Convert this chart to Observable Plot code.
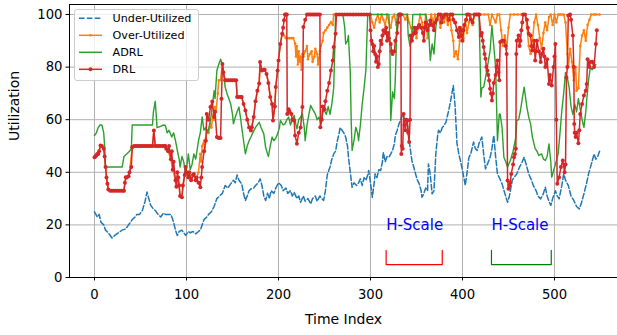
<!DOCTYPE html>
<html>
<head>
<meta charset="utf-8">
<script src="https://cdn.jsdelivr.net/npm/d3@7"></script>
<script src="https://cdn.jsdelivr.net/npm/@observablehq/plot@0.6"></script>
<style>
  html, body { margin: 0; padding: 0; background: white; }
  #wrap { position: relative; width: 617px; height: 335px; overflow: hidden; }
  #wrap svg { display: block; }
  #legend { position: absolute; left: 0; top: 0; pointer-events: none; }
</style>
</head>
<body>
<div id="wrap"></div>
<script>
// ---------------- data (time index, utilization %) ----------------
const xTicks = [0, 100, 200, 300, 400, 500];
const yTicks = [0, 20, 40, 60, 80, 100];
const seriesNames = ["Under-Utilized", "Over-Utilized", "ADRL", "DRL"];

const underUtilized = [[0,25],[3,23],[5,24],[7,21],[10,20],[12,18],[15,17],[19,15],[22,16],[26,17],[30,18],[34,18.5],[37,20],[41,22],[44,23],[46,24],[49,24],[52,25.5],[55,29],[57,32.5],[59,30],[61,27.5],[64,26],[66,25.5],[69,24],[72,23],[75,24.5],[77,24],[80,24],[83,24],[86,21],[88,18],[90,16],[92,17.5],[95,18],[97,17],[99,16],[102,17.5],[104,17],[107,17.5],[110,16.6],[113,17.5],[115,18],[117,20],[119,22],[122,23],[124,24],[127,25],[130,27],[133,30],[136,31],[139,32],[142,35],[145,34],[148,35.6],[151,37],[153,36],[155,39],[157,37],[160,35.6],[162,32],[164,29.3],[166,31],[168,33],[170,33.7],[173,34],[175,35],[178,36],[180,37.5],[182,35],[184,31],[186,29.3],[188,32],[190,30],[192,33],[195,32],[197,34],[200,36],[203,35],[205,33],[208,34],[210,32],[213,33],[215,31],[217,32.4],[220,30],[222,31],[224,28.6],[227,31],[229,29],[232,30],[235,28],[237,30],[240,31],[242,29],[245,31],[247,30],[249,29.3],[251,33],[253,39],[256,42],[258,45],[260,47],[262,48],[264,52],[266,55],[267,57],[269,56],[271,55],[273,53.4],[275,50],[276,46],[278,40],[280,34.3],[282,36],[285,35],[287,36],[289,37.5],[291,35],[293,38],[295,37],[297,39],[298,40.7],[300,36],[302,30.5],[304,36],[305,39.4],[307,38],[309,41],[311,40.7],[313,44],[314,47.6],[316,44],[318,46],[320,45.7],[322,47],[324,48.3],[326,51],[327,54],[329,56],[331,58.4],[333,60],[334,61.6],[336,61],[338,60],[340,58.4],[342,52],[345,44.5],[347,42],[349,39.4],[351,37],[353,35.6],[355,33],[356,30.5],[358,32],[360,34],[362,33],[363,43.2],[365,39],[367,31.8],[369,33],[371,47],[373,54],[374,56],[376,55],[378,57],[380,57.8],[382,59],[385,63.5],[387,67],[389,71],[390,73],[392,65],[394,51],[396,47],[398,44],[400,40.7],[402,37],[403,35],[405,40],[407,45.7],[409,47],[411,50],[412,51.5],[414,49],[416,48.3],[418,51],[421,53.4],[423,47],[425,41.3],[427,43],[430,45.7],[432,49],[434,54],[436,46],[438,39.4],[440,38],[443,35.6],[446,32],[449,28.6],[451,31],[454,36.9],[456,38],[459,39.4],[462,42],[465,44],[467,45.7],[470,42],[472,39.4],[475,37],[477,35],[480,33],[482,31],[485,29.9],[488,32],[490,34.3],[492,31],[494,29],[496,27.4],[498,30],[501,33],[503,31],[505,29.9],[508,35],[510,39.4],[512,37],[515,35],[518,31],[521,29.3],[524,27],[527,26.1],[529,28],[532,31.8],[535,36],[537,39.4],[540,43],[543,47],[545,45],[547,46],[549,48]];

const overUtilized = [[0,45.7],[2,46.5],[4,47],[6.5,50.2],[8,50],[10,49],[12,42],[14,35.6],[15,33.5],[20,33],[25,33],[30,33],[32,33],[34,38],[37,38.5],[38,40],[41,49.5],[45,50],[50,50],[55,50],[60,50],[63,50],[64.5,55.9],[66,50],[70,50],[77,50],[80,48],[83,45],[85,41],[88,37],[89,34.5],[91,38],[93,31],[95,30.5],[98,39],[100,40],[103,40],[105,37],[108,39],[111,38],[113,40],[115,47],[116,44],[117,50],[119,52],[120,48],[121,53],[122.5,56],[124,55],[126,58.4],[127,57],[129,62],[130,60],[131,64.8],[132,63],[134,70],[135,75],[137,75],[139,81.2],[140,78],[142,75],[146,75],[150,75],[154,75],[155,68.6],[160,68.6],[162,66],[164,63.5],[166,60],[168,57],[170,55.9],[173,61],[175,67],[177,71],[179,73.8],[180,81.9],[182,78.7],[185,79],[187,77.4],[189,74],[191,68.6],[193,66],[194,59.7],[196,65],[197,72.4],[199,78.7],[200,82.5],[202,88.8],[204,92.7],[206,92],[208,91],[210,91],[212,91],[214,91],[216,91],[218,89],[219,84],[220,88],[221,81],[222,86],[223,82],[224,84],[225,79],[226,85],[227,84],[229,86],[231,88],[232,83],[234,85],[236,86],[237,82],[239,84],[240,87],[242,85],[243,81],[245,86],[246,88],[248,90],[249,93],[251,94],[253,95],[255,96],[257,97],[259,96],[260,100],[262,100],[270,100],[280,100],[290,100],[300,100],[302,97],[304,95],[306,98],[308,100],[310,97],[312,100],[314,98],[316,96],[318,100],[320,97],[322,95],[324,99],[326,100],[328,96],[330,98],[332,100],[335,100],[338,98],[340,100],[342,97],[344,95],[346,92],[348,95],[350,91],[352,96],[354,100],[356,97],[358,93],[360,100],[362,91],[364,96],[366,100],[368,97],[370,100],[372,98],[374,100],[376,95],[378,100],[380,97],[382,100],[384,96],[386,100],[388,94],[390,90],[391,84],[393,86],[395,83],[397,90],[399,95],[401,91],[403,98],[405,93],[407,97],[409,100],[411,96],[413,100],[416,100],[420,100],[424,100],[428,100],[430,96],[432,100],[436,97],[438,100],[440,100],[442,94],[444,88],[446,92],[448,87],[450,95],[452,100],[456,100],[460,100],[464,100],[468,100],[470,96],[472,88],[474,85],[476,90],[478,97],[480,100],[482,96],[484,91],[486,87],[488,93],[490,97],[492,94],[494,99],[496,100],[498,96],[500,100],[502,97],[504,100],[506,100],[508,100],[510,100],[512,97],[514,85],[515,80],[517,87],[519,82],[521,75],[523,80],[524,71],[526,72],[528,88],[530,92],[532,94],[534,90],[536,96],[538,98],[540,100],[543,100],[545,100],[549,100]];

const adrl = [[0,54],[2,55],[4,57],[6,58],[8,58],[10,55],[11,50],[12,42],[15,42],[20,42],[25,42],[30,42],[32,46],[35,47],[38,48],[40,49],[41,58],[45,58],[50,58],[55,58],[60,58],[63,58],[64,63],[66,67],[67,62],[68,57],[72,57.5],[75,58],[77,57.8],[79,55],[81,56],[84,53.4],[86,55],[88,52],[90,48.3],[92,45],[93,42],[95,46],[97,44],[99,39],[101,44],[102,47],[104,41],[106,43],[108,47],[110,45],[113,52],[115,55],[117,61],[119,56],[121,57],[123,55],[126,59.7],[128,65],[130,71],[131,68],[133,78.7],[135,81],[137,83],[139,81],[141,76],[142,72.4],[144,70],[146,68],[148,66],[150,62],[151,58.4],[153,61],[155,63],[157,64.8],[159,60],[160,57.1],[162,52],[164,47],[166,50],[168,52],[170,53.4],[172,55],[175,57.1],[177,58],[179,59],[181,57],[184,54.6],[186,49.5],[188,47],[189,46],[191,50],[193,53.4],[195,52],[197,53],[199,54.6],[201,57],[202,59.7],[205,58],[207,58.4],[209,60],[211,61],[213,58],[215,60],[217,61.6],[219,58],[220,56.5],[222,60],[224,61],[226,62.2],[228,57],[229,52],[231,58],[233,62],[235,65.4],[237,64],[240,62.2],[242,60],[244,61],[246,58.4],[248,62],[249,64],[252,62],[254,65],[256,62],[258,66],[260,72],[261,85],[262,100],[265,100],[270,100],[272,95],[273,88.8],[275,90],[276,92],[277,85],[278,78],[279,60],[280,48.3],[282,52],[284,57.1],[286,55],[287,52],[289,58],[291,66],[293,72],[295,79],[296,90],[297,100],[300,100],[310,100],[320,100],[321,90],[322,59.7],[323,65],[324,70.6],[326,68],[327,76],[328,88],[329,100],[335,100],[340,100],[341,92],[343,88],[345,91],[346,100],[350,100],[360,100],[363,95],[365,82.5],[367,88.8],[369,85],[371,95],[373,100],[380,100],[390,100],[397,100],[405,100],[410,100],[415,100],[418,100],[419,85],[420,68.6],[421,72],[423,72.4],[425,76],[427,80],[430,86.3],[432,95.8],[434,88],[436,80],[438,52],[440,62.2],[441,62],[443,57.1],[445,45.7],[447,44],[449,42],[452,44.5],[455,48],[458,53.4],[459,59.7],[461,60],[463,63.5],[465,68],[467,72.4],[468,70],[470,64.8],[472,61],[474,58.4],[476,53.4],[479,49],[481,48],[483,46.4],[486,47],[488,45],[490,44.5],[492,46],[494,50.8],[496,44],[497,38.1],[499,40.7],[501,43],[504,47],[506,55],[508,63.5],[510,70],[512,78],[514,76],[516,72],[518,65],[520,62],[522,66],[524,63],[526,68],[528,64],[530,60],[532,57.1],[534,63],[535,67.3],[537,75],[539,80],[541,79],[543,80],[545,81]];

const drl = [[0,45.7],[1,46],[2,46.5],[3,47],[4,47],[5,48],[6.5,50.2],[8,50],[10,49],[11,46],[12,42],[13,38],[14,35.6],[15,33.5],[17,33],[19,33],[21,33],[23,33],[25,33],[27,33],[29,33],[31,33],[32,33],[33,36],[34,38.1],[35,38],[37,38.5],[38,40],[40,42],[41,49.5],[43,50],[45,50],[47,50],[49,50],[51,50],[53,50],[55,50],[57,50],[59,50],[61,50],[63,50],[64.5,55.9],[66,50],[68,50],[70,50],[72,50],[74,50],[76,50],[77,50],[78,49],[80,48],[81,50],[83,45],[84,48],[85,41],[86,44],[88,36.9],[89,34.5],[90,40],[91,38],[92,35],[93,31],[95,30.5],[96,35],[98,39],[99,42],[100,40],[102,38],[103,40],[105,37],[107,39],[108,39.4],[110,37],[111,38],[113,36],[115,34.3],[116,38],[117,42],[119,48],[121,52],[122,62.2],[124,60],[126,64.8],[128,66.9],[130,61],[131,63],[133,53.4],[135,53],[137,53],[138,68],[139,81.2],[140,78],[142,75],[144,75],[146,75],[148,75],[150,75],[152,75],[154,75],[155,68.6],[157,68.6],[159,68.6],[160,68.6],[162,66],[164,63.5],[166,60],[168,57],[170,55.9],[171,57.1],[173,61],[175,67],[177,71],[179,73.8],[180,81.9],[182,78.7],[184,79],[185,79],[187,77.4],[189,74],[191,68.6],[193,66],[194,59.7],[196,65],[197,72.4],[199,78.7],[200,82.5],[202,88.8],[204,92.7],[205,95],[206,97.8],[207,100],[208,100],[209,100],[209.5,62.2],[211,64],[212,63],[214,62.2],[215,60],[217,59.7],[218,54],[220,50.9],[222,55],[224,57],[226,64.8],[227,95.2],[229,98],[231,100],[233,100],[235,100],[237,100],[239,100],[241,100],[243,100],[245,100],[245.5,57.1],[247,60],[248,65],[250,64],[251,67],[253,71],[255,74],[257,78.7],[259,82.5],[260,87.6],[262,92.7],[263,100],[266,100],[269,100],[272,100],[275,100],[278,100],[281,100],[284,100],[287,100],[290,100],[293,100],[296,100],[299,100],[300,94],[301,90],[302,88.8],[303,86],[304,88],[305,85],[306,82],[307,84],[308,80],[309,81.2],[310,86],[311,90],[312,88.8],[313,92],[314,94],[316,93],[317,95],[318,90],[319,93],[320,91],[322,88.8],[323,86],[324,85],[326,86],[327,90],[329,93],[330,97],[331,100],[332,100],[333,100],[333.5,47],[334,50],[335,49],[336,62.2],[337,58],[338,56],[339,60],[340,59.7],[341,55],[342,51.5],[343,60],[343.5,92],[345,90],[347,92.7],[348,95],[349,93],[351,95],[353,96],[355,95],[357,93],[358,90],[359,95],[360,97],[362,94],[364,96],[365,97.7],[367,96],[369,94],[370,97],[372,98],[374,100],[376,100],[377,97],[379,99],[381,100],[383,100],[385,98],[387,100],[389,100],[390,98],[392,97],[394,94],[396,91.4],[397,95],[398,94],[399,92],[400,90],[401,94],[402,96],[404,98],[405,100],[407,100],[409,98],[411,97],[413,100],[415,100],[417,100],[418,100],[420,92],[421,93],[422,90],[423,87.6],[424,85],[425,83.2],[426,80],[427,78.7],[428,77],[429,74.9],[430,71.8],[431,70],[432,67.3],[433,70],[434,74],[436,77],[437,80],[438,82.5],[439,78],[440,75],[441,89.5],[443,90],[445,90],[447,88],[448,85],[449,36.9],[450,33.7],[451,35],[452,36],[453,39.4],[455,43],[456,45.7],[457,47],[458,49],[458.5,85],[459,90],[461,92],[462,88],[463,90],[464,94],[465,97],[466,100],[468,100],[470,98],[471,95],[472,92.7],[474,92],[475,88],[476,86.3],[478,90],[479,82.5],[480,86],[481,90],[483,86],[485,81.9],[486,85],[488,87],[489,84],[490,80],[492,83],[494,73.6],[495,77],[497,73],[499,80],[500,84],[501,88.8],[502,60],[503,35.6],[505,38],[507,42],[509,44.5],[511,40],[512,43],[513,76],[514,80],[515,99.6],[517,100],[518,98],[520,92],[521,80],[521.5,58.4],[522,55],[523,53.4],[524,55],[526,51],[527,56],[528,62.2],[530,66],[532,69.2],[534,71],[535,73.6],[536,83],[538,80],[539,81.9],[541,82],[543,80],[545,88.8],[546,94]];

// H-Scale annotations: label, start, end of bracket, colour of bracket
const hScaleLabels = ["H-Scale", "H-Scale"];
const hScaleStart = [317, 431.5];
const hScaleEnd = [378, 496.5];
const hScaleColors = ["#ff0000", "#008000"];
const hScaleTextY = 20;
const hScaleBracketTop = 10.3;
const hScaleBracketBottom = 4.9;

// ---------------- build ----------------
const colors = {under: "#1f77b4", over: "#ff7f0e", adrl: "#2ca02c", drl: "#d62728"};
const X = d => d[0], Y = d => d[1];

const brackets = hScaleStart.flatMap((s, i) => {
  const e = hScaleEnd[i];
  return [[s, hScaleBracketTop], [s, hScaleBracketBottom], [e, hScaleBracketBottom], [e, hScaleBracketTop]]
    .map(p => ({x: p[0], y: p[1], g: i, c: hScaleColors[i]}));
});
const hText = hScaleLabels.map((t, i) => ({x: hScaleStart[i], y: hScaleTextY, t}));

const xDomain = [-27.2, 568.5];
const yDomain = [0, 103.8];

const chart = Plot.plot({
  width: 617,
  height: 335,
  marginLeft: 69,
  marginRight: 0,
  marginTop: 4,
  marginBottom: 58,
  style: {fontFamily: "DejaVu Sans, sans-serif", fontSize: "13.2px", color: "black", background: "white"},
  x: {domain: xDomain, ticks: xTicks, tickSize: 3.5, tickPadding: 8.5, label: null},
  y: {domain: yDomain, ticks: yTicks, tickSize: 3.5, tickPadding: 3.5, label: null},
  marks: [
    Plot.ruleX(xTicks, {stroke: "#b0b0b0", strokeWidth: 1}),
    Plot.ruleY(yTicks, {stroke: "#b0b0b0", strokeWidth: 1}),
    Plot.line(underUtilized, {x: X, y: Y, stroke: colors.under, strokeWidth: 1.5, strokeDasharray: "5.5,2.4"}),
    Plot.line(overUtilized, {x: X, y: Y, stroke: colors.over, strokeWidth: 1.5}),
    Plot.dot(overUtilized, {x: X, y: Y, r: 1.3, fill: colors.over}),
    Plot.line(adrl, {x: X, y: Y, stroke: colors.adrl, strokeWidth: 1.4}),
    Plot.line(drl, {x: X, y: Y, stroke: colors.drl, strokeWidth: 1.5}),
    Plot.dot(drl, {x: X, y: Y, r: 2, fill: colors.drl}),
    Plot.text(hText, {x: "x", y: "y", text: "t", textAnchor: "start", fill: "#0000ff", fontSize: 15}),
    Plot.line(brackets, {x: "x", y: "y", z: "g", stroke: "c", strokeWidth: 1.2}),
    Plot.ruleX([xDomain[0]], {stroke: "black", strokeWidth: 1}),
    Plot.ruleY([yDomain[0], yDomain[1]], {stroke: "black", strokeWidth: 1}),
    Plot.text(["Time Index"], {frameAnchor: "bottom", dy: 42, lineAnchor: "middle", fontSize: 14}),
    Plot.text(["Utilization"], {frameAnchor: "left", dx: -55, rotate: -90, lineAnchor: "middle", fontSize: 14})
  ]
});

const wrap = document.getElementById("wrap");
wrap.appendChild(chart);

// legend overlay (matplotlib-style, upper left)
const ns = "http://www.w3.org/2000/svg";
const leg = document.createElementNS(ns, "svg");
leg.setAttribute("id", "legend");
leg.setAttribute("width", 617);
leg.setAttribute("height", 335);
leg.setAttribute("font-family", "DejaVu Sans, sans-serif");
leg.setAttribute("font-size", "11.2");
const box = document.createElementNS(ns, "rect");
Object.entries({x: 74.5, y: 9.5, width: 124, height: 71, rx: 2.5, fill: "white", "fill-opacity": 0.8, stroke: "#cccccc", "stroke-width": 1})
  .forEach(([k, v]) => box.setAttribute(k, v));
leg.appendChild(box);
const legStyles = [
  {c: colors.under, dash: "5.5,2.4", dot: 0},
  {c: colors.over, dash: null, dot: 1.3},
  {c: colors.adrl, dash: null, dot: 0},
  {c: colors.drl, dash: null, dot: 2}
];
seriesNames.forEach((name, i) => {
  const cy = 18.3 + i * 17;
  const s = legStyles[i];
  const l = document.createElementNS(ns, "line");
  Object.entries({x1: 79, x2: 102, y1: cy, y2: cy, stroke: s.c, "stroke-width": 1.5}).forEach(([k, v]) => l.setAttribute(k, v));
  if (s.dash) l.setAttribute("stroke-dasharray", s.dash);
  leg.appendChild(l);
  if (s.dot) {
    const c = document.createElementNS(ns, "circle");
    Object.entries({cx: 90.5, cy, r: s.dot, fill: s.c}).forEach(([k, v]) => c.setAttribute(k, v));
    leg.appendChild(c);
  }
  const t = document.createElementNS(ns, "text");
  t.setAttribute("x", 112.5);
  t.setAttribute("y", cy);
  t.setAttribute("dy", "0.35em");
  t.textContent = name;
  leg.appendChild(t);
});
wrap.appendChild(leg);
</script>
</body>
</html>
